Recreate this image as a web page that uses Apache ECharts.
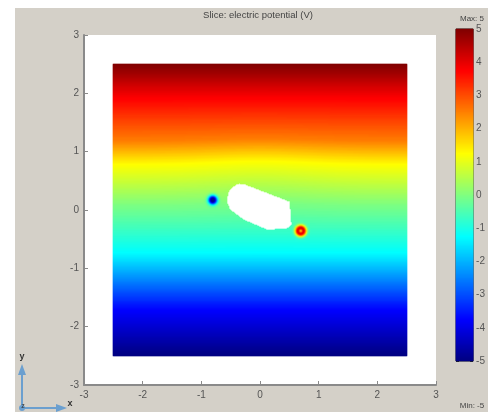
<!DOCTYPE html>
<html><head><meta charset="utf-8">
<script src="https://cdn.jsdelivr.net/npm/echarts@6.0.0/dist/echarts.min.js"></script>
<style>html,body{margin:0;padding:0;background:#fff}#c{width:488px;height:412px}</style>
</head><body><div id="c"></div>
<script>
// ---- values ----
const titleText = 'Slice: electric potential (V)';
const axisTickValues = [-3, -2, -1, 0, 1, 2, 3];
const colorTickValues = [-5, -4, -3, -2, -1, 0, 1, 2, 3, 4, 5];
const colorMin = -5, colorMax = 5;
const domainHalf = 2.5;            // coloured square spans -2.5..2.5
// background potential along y (read from colour bands)
const profileY = [-2.5, -1.72, -0.73, 0.1, 0.78, 1.18, 1.92, 2.5];
const profileV = [-5, -3.75, -1.25, 0, 1.25, 2.5, 3.75, 5];
// slight upward bulge of the equipotentials over the hole
const bulgeAmp = [0.06], bulgeCenterY = [0.6], bulgeWx = [1.2], bulgeWy = [0.6];
// hole outline (white, no data)
const holeX = [-0.353, -0.25, 0.511, 0.540, 0.455, 0.114, -0.285, -0.512, -0.568, -0.545, -0.48, -0.40];
const holeY = [0.455, 0.44, 0.146, -0.253, -0.327, -0.339, -0.168, 0.003, 0.146, 0.30, 0.39, 0.44];
// two point sources
const chargeX = [-0.80, 0.70];
const chargeY = [0.175, -0.355];
const chargeAmp = [-4.9, 4.8];
const chargeR0 = [0.02, 0.05];
const chargeS = [0.042, 0.036];

const jetColors = ['#000080', '#0000ff', '#0080ff', '#00ffff', '#80ff80', '#ffff00', '#ff8000', '#ff0000', '#800000'];

// ---- build grid of cells (one cell per screen pixel) ----
const NX = 352, NY = 350, lo = -3, hi = 3;
const stepX = (hi - lo) / NX, stepY = (hi - lo) / NY;
function profile(y) {
  if (y <= profileY[0]) return profileV[0];
  for (let i = 1; i < profileY.length; i++) {
    if (y <= profileY[i]) {
      const t = (y - profileY[i - 1]) / (profileY[i] - profileY[i - 1]);
      return profileV[i - 1] + t * (profileV[i] - profileV[i - 1]);
    }
  }
  return profileV[profileV.length - 1];
}
function inHole(x, y) {
  let inside = false;
  for (let i = 0, j = holeX.length - 1; i < holeX.length; j = i++) {
    const xi = holeX[i], yi = holeY[i], xj = holeX[j], yj = holeY[j];
    if (((yi > y) !== (yj > y)) && (x < (xj - xi) * (y - yi) / (yj - yi) + xi)) inside = !inside;
  }
  return inside;
}
const catsX = [], catsY = [];
for (let i = 0; i < NX; i++) catsX.push(i);
for (let j = 0; j < NY; j++) catsY.push(j);
const fieldData = [];
for (let i = 0; i < NX; i++) {
  const x = lo + (i + 0.5) * stepX;
  if (Math.abs(x) > domainHalf) continue;
  for (let j = 0; j < NY; j++) {
    const y = lo + (j + 0.5) * stepY;
    if (Math.abs(y) > domainHalf) continue;
    if (inHole(x, y)) continue;
    const yEff = y - bulgeAmp[0] * Math.exp(-x * x / bulgeWx[0]) * Math.exp(-Math.pow(y - bulgeCenterY[0], 2) / bulgeWy[0]);
    let v = profile(yEff);
    for (let k = 0; k < chargeX.length; k++) {
      const r = Math.hypot(x - chargeX[k], y - chargeY[k]);
      v += chargeAmp[k] * Math.exp(-Math.pow(r - chargeR0[k], 2) / (2 * chargeS[k] * chargeS[k]));
    }
    v = Math.max(colorMin, Math.min(colorMax, v));
    fieldData.push([i, j, +v.toFixed(3)]);
  }
}
const NB = 332;
const barCats = [];
const barData = [];
for (let j = 0; j < NB; j++) {
  barCats.push(j);
  barData.push([0, j, colorMin + (j + 0.5) * (colorMax - colorMin) / NB]);
}

const chart = echarts.init(document.getElementById('c'), null, {renderer: 'canvas'});
const gray = '#8a8a8a';
const fontFam = 'Liberation Sans, Arial, sans-serif';
const labelStyle = {color: '#555', fontSize: 10, fontFamily: fontFam};
const option = {
  animation: false,
  backgroundColor: '#d4d0c8',
  graphic: [
    {type: 'rect', shape: {x: 0, y: 0, width: 15, height: 412}, style: {fill: '#fff'}, silent: true},
    {type: 'rect', shape: {x: 0, y: 0, width: 488, height: 8}, style: {fill: '#fff'}, silent: true},
    {type: 'text', x: 258, y: 15, style: {text: titleText, fill: '#444', fontSize: 9.5, fontFamily: fontFam, align: 'center', verticalAlign: 'middle'}},
    {type: 'text', x: 472, y: 19, style: {text: 'Max: ' + colorMax, fill: '#444', fontSize: 8, fontFamily: fontFam, align: 'center', verticalAlign: 'middle'}},
    {type: 'text', x: 472, y: 406, style: {text: 'Min: ' + colorMin, fill: '#444', fontSize: 8, fontFamily: fontFam, align: 'center', verticalAlign: 'middle'}},
    // coordinate triad
    {type: 'line', shape: {x1: 22, y1: 408, x2: 22, y2: 372}, style: {stroke: '#6b9fcf', lineWidth: 2}},
    {type: 'polygon', shape: {points: [[18, 375], [26, 375], [22, 364]]}, style: {fill: '#6b9fcf'}},
    {type: 'line', shape: {x1: 22, y1: 408, x2: 58, y2: 408}, style: {stroke: '#6b9fcf', lineWidth: 2}},
    {type: 'polygon', shape: {points: [[56, 404], [56, 412], [67, 408]]}, style: {fill: '#6b9fcf'}},
    {type: 'circle', shape: {cx: 22, cy: 408, r: 3}, style: {fill: '#6b9fcf'}},
    {type: 'text', x: 22, y: 357, style: {text: 'y', fill: '#333', fontSize: 9, fontWeight: 'bold', align: 'center', verticalAlign: 'middle'}},
    {type: 'text', x: 70, y: 404, style: {text: 'x', fill: '#333', fontSize: 9, fontWeight: 'bold', align: 'center', verticalAlign: 'middle'}},
    {type: 'text', x: 23, y: 406, style: {text: 'z', fill: '#333', fontSize: 7, align: 'center', verticalAlign: 'middle'}}
  ],
  grid: [
    {left: 84, top: 35, width: 352, height: 350, show: true, backgroundColor: '#fff', borderWidth: 0},
    {left: 456, top: 29, width: 18, height: 332, show: true, backgroundColor: '#fff', borderColor: '#222', borderWidth: 1}
  ],
  xAxis: [
    {type: 'category', gridIndex: 0, data: catsX, show: false},
    {type: 'value', gridIndex: 0, min: -3, max: 3, interval: 1, position: 'bottom',
     axisLine: {show: true, lineStyle: {color: gray, width: 2}},
     axisTick: {show: true, inside: true, length: 4, lineStyle: {color: gray}},
     axisLabel: Object.assign({margin: 5}, labelStyle), splitLine: {show: false}},
    {type: 'category', gridIndex: 1, data: [0], show: false}
  ],
  yAxis: [
    {type: 'category', gridIndex: 0, data: catsY, show: false},
    {type: 'value', gridIndex: 0, min: -3, max: 3, interval: 1, position: 'left',
     axisLine: {show: true, lineStyle: {color: gray, width: 2}},
     axisTick: {show: true, inside: true, length: 4, lineStyle: {color: gray}},
     axisLabel: Object.assign({margin: 5}, labelStyle), splitLine: {show: false}},
    {type: 'category', gridIndex: 1, data: barCats, show: false},
    {type: 'value', gridIndex: 1, min: colorMin, max: colorMax, interval: 1, position: 'right',
     axisLine: {show: false},
     axisTick: {show: true, inside: true, length: 3, lineStyle: {color: '#222'}},
     axisLabel: Object.assign({margin: 3}, labelStyle), splitLine: {show: false}},
    {type: 'value', gridIndex: 1, min: colorMin, max: colorMax, interval: 1, position: 'left',
     axisLine: {show: false},
     axisTick: {show: true, inside: true, length: 3, lineStyle: {color: '#222'}},
     axisLabel: {show: false}, splitLine: {show: false}}
  ],
  visualMap: {
    type: 'continuous', show: false, min: colorMin, max: colorMax, dimension: 2,
    seriesIndex: [0, 1], inRange: {color: jetColors}
  },
  series: [
    {type: 'heatmap', xAxisIndex: 0, yAxisIndex: 0, data: fieldData, progressive: 0,
     emphasis: {disabled: true}, itemStyle: {borderWidth: 0}},
    {type: 'heatmap', xAxisIndex: 2, yAxisIndex: 2, data: barData, progressive: 0,
     emphasis: {disabled: true}, itemStyle: {borderWidth: 0}}
  ]
};
chart.setOption(option);
</script></body></html>
